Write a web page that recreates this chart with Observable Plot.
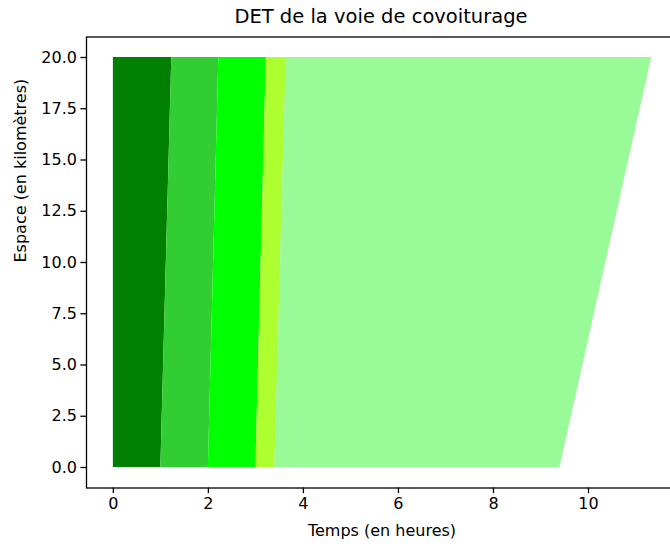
<!DOCTYPE html>
<html>
<head>
<meta charset="utf-8">
<script src="https://cdn.jsdelivr.net/npm/d3@7"></script>
<script src="https://cdn.jsdelivr.net/npm/@observablehq/plot@0.6"></script>
<style>
  html, body { margin: 0; padding: 0; background: #fff; overflow: hidden; }
  #title { width: 670px; height: 34px; line-height: 34px; box-sizing: border-box; padding-left: 92px;
           text-align: center; font-family: "DejaVu Sans", sans-serif; font-size: 19.5px; color: #000; }
  svg { display: block; }
</style>
</head>
<body>
<div id="title">DET de la voie de covoiturage</div>
<div id="chart"></div>
<script>
// Bands (trapezoids in space-time)
const bands = ["A", "B", "C", "D", "E"];
const colors = ["#008000", "#32cd32", "#00ff00", "#adff2f", "#98fb98"];
const startBottom = [0, 1.0, 2.0, 3.0, 3.4];
const endBottom   = [1.0, 2.0, 3.0, 3.4, 9.4];
const startTop    = [0, 1.23, 2.22, 3.22, 3.64];
const endTop      = [1.23, 2.22, 3.22, 3.64, 11.33];
const spaceBottom = 0;
const spaceTop = 20;

const xTicks = [0, 2, 4, 6, 8, 10];
const yTicks = [0, 2.5, 5, 7.5, 10, 12.5, 15, 17.5, 20];
const xLabel = "Temps (en heures)";
const yLabel = "Espace (en kilomètres)";

const rows = [];
bands.forEach((b, i) => {
  rows.push({band: b, color: colors[i], y: spaceBottom, x1: startBottom[i], x2: endBottom[i]});
  rows.push({band: b, color: colors[i], y: spaceTop, x1: startTop[i], x2: endTop[i]});
});

const font = "DejaVu Sans, sans-serif";
const chart = Plot.plot({
  width: 670,
  height: 514,
  marginLeft: 86,
  marginRight: -7,
  marginTop: 2.5,
  marginBottom: 60.5,
  style: {fontFamily: font, fontSize: "16px", color: "#000", background: "#fff", overflow: "hidden"},
  x: {domain: [-0.565, 11.873], ticks: xTicks, label: null},
  y: {domain: [-1, 21], ticks: yTicks, label: null},
  color: {type: "identity"},
  marks: [
    Plot.areaX(rows, {y: "y", x1: "x1", x2: "x2", z: "band", fill: "color", curve: "linear"}),
    Plot.axisX({ticks: xTicks, tickSize: 5.6, tickPadding: 4, label: null, stroke: "#000", fontSize: 16, strokeWidth: 1.3}),
    Plot.axisY({ticks: yTicks, tickSize: 5.6, tickPadding: 4, label: null, tickFormat: d3.format(".1f"), stroke: "#000", fontSize: 16, strokeWidth: 1.3}),
    Plot.frame({stroke: "#000", strokeWidth: 1.3}),
    Plot.text([xLabel], {text: d => d, frameAnchor: "bottom", lineAnchor: "middle", dy: 42.5, dx: 0, fontSize: 16, fill: "#000"}),
    Plot.text([yLabel], {text: d => d, frameAnchor: "left", rotate: -90, dx: -65.5, fontSize: 16, fill: "#000"})
  ]
});
document.getElementById("chart").appendChild(chart);
</script>
</body>
</html>
